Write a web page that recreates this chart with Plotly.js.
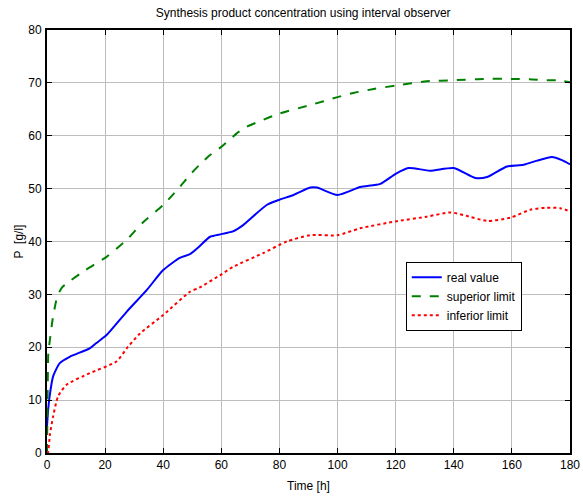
<!DOCTYPE html>
<html>
<head>
<meta charset="utf-8">
<script src="https://cdn.plot.ly/plotly-3.0.1.min.js"></script>
<style>html,body{margin:0;padding:0;background:#fff;}#chart{width:583px;height:497px;}</style>
</head>
<body>
<div id="chart"></div>
<script>
// Real value (blue)
const realX = [0, 0.3, 0.9, 2.1, 4.4, 7.8, 14.7, 17, 20.5, 27.4, 34.3, 40, 45.7, 49.2, 52.5, 56.1, 60, 64, 67.5, 75.6, 80, 84.8, 90.6, 92.9, 100, 107.8, 114.7, 120, 124.4, 131.8, 140, 147.4, 151.5, 158.3, 164, 168.7, 173.8, 177.2, 180];
const realY = [5, 7.5, 10.7, 14.5, 17.0, 18.2, 19.8, 20.8, 22.3, 26.7, 30.8, 34.6, 36.9, 37.6, 39.1, 40.9, 41.4, 41.9, 43.1, 46.9, 47.9, 48.8, 50.2, 50.2, 48.8, 50.3, 50.9, 52.8, 53.9, 53.4, 53.9, 52.0, 52.2, 54.2, 54.5, 55.3, 56.0, 55.4, 54.6];
// Superior limit (green)
const supX = [0, 0.2, 0.45, 1.0, 2.0, 3.5, 5.0, 6.8, 13, 20.5, 27.4, 33, 40, 45.8, 49.2, 52.5, 56, 60, 65.2, 67.5, 73, 80, 90.6, 100, 105.5, 112, 120, 130.7, 140, 150.3, 160, 166, 172, 176, 180];
const supY = [0, 10, 18.9, 21.4, 25.5, 29.5, 31.2, 32.1, 34.5, 37.1, 40.3, 43.6, 46.9, 50.4, 52.6, 54.5, 56.3, 57.9, 60.4, 61.4, 62.7, 64.2, 65.8, 67.3, 68.1, 68.8, 69.5, 70.3, 70.5, 70.75, 70.75, 70.7, 70.5, 70.5, 70.1];
// Inferior limit (red)
const infX = [0, 0.3, 1.0, 2.1, 3.8, 6.7, 14.7, 23.9, 27.9, 32, 40, 49.2, 52.5, 59.5, 64, 74.4, 82.5, 90.6, 100, 107.8, 120, 130.7, 138.9, 143.4, 151.5, 159.4, 166.3, 172, 176.6, 180];
const infY = [0, 0, 3.5, 6.9, 10.7, 12.9, 15.1, 17.3, 20.1, 22.6, 26.1, 30.5, 31.3, 33.6, 35.2, 37.8, 40.0, 41.2, 41.2, 42.5, 43.8, 44.7, 45.5, 45.0, 43.9, 44.5, 46.0, 46.4, 46.3, 45.7];

const seriesNames = ["real value", "superior limit", "inferior limit"];
const xTicks = [0, 20, 40, 60, 80, 100, 120, 140, 160, 180];
const yTicks = [0, 10, 20, 30, 40, 50, 60, 70, 80];

const FONT = "'Liberation Sans', Arial, sans-serif";
const FS = 12;

const traces = [
  {x: realX, y: realY, name: seriesNames[0], mode: 'lines', line: {color: '#0000ff', width: 2, shape: 'spline', smoothing: 0.6}},
  {x: supX, y: supY, name: seriesNames[1], mode: 'lines', line: {color: '#008000', width: 2, dash: 'dash', shape: 'spline', smoothing: 0.6}},
  {x: infX, y: infY, name: seriesNames[2], mode: 'lines', line: {color: '#ff0000', width: 2, dash: 'dot', shape: 'spline', smoothing: 0.6}}
];

const axisCommon = {
  showline: true, linecolor: '#000', linewidth: 2, mirror: 'ticks',
  ticks: 'inside', ticklen: 5, tickcolor: '#000', tickwidth: 1,
  showgrid: true, gridcolor: '#bdbdbd', gridwidth: 1,
  zeroline: false, tickfont: {family: FONT, size: FS, color: '#000'}
};

const layout = {
  width: 583, height: 497,
  margin: {l: 47, r: 13, t: 30, b: 44},
  paper_bgcolor: '#fff', plot_bgcolor: '#fff',
  title: {text: 'Synthesis product concentration using interval observer', font: {family: FONT, size: FS, color: '#000'}, x: 0.52, xanchor: 'center', y: 0.975, yanchor: 'middle'},
  xaxis: Object.assign({}, axisCommon, {range: [0, 180], tickvals: xTicks, title: {text: 'Time [h]', font: {family: FONT, size: FS, color: '#000'}, standoff: 10}}),
  yaxis: Object.assign({}, axisCommon, {range: [0, 80], tickvals: yTicks, ticklabelstandoff: 1, title: {text: 'P  [g/l]', font: {family: FONT, size: FS, color: '#000'}, standoff: 2}}),
  legend: {x: 0.686, y: 0.452, xanchor: 'left', yanchor: 'top', bgcolor: '#fff', bordercolor: '#000', borderwidth: 1, font: {family: FONT, size: FS, color: '#000'}, tracegroupgap: 0, itemwidth: 30},
  showlegend: true
};

Plotly.newPlot('chart', traces, layout, {displayModeBar: false, staticPlot: true});
</script>
</body>
</html>
